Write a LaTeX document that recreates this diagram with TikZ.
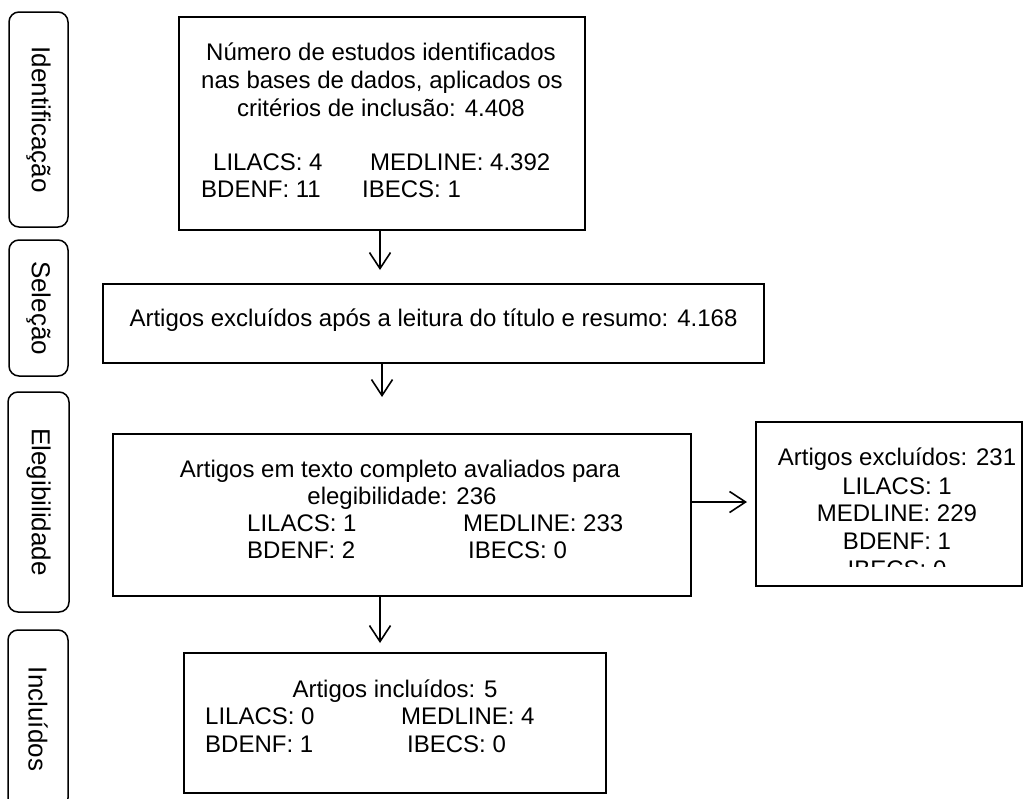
\documentclass[tikz,border=0pt]{standalone}
\usepackage{fontspec}
\setmainfont{Liberation Sans}
\usetikzlibrary{arrows.meta}
\begin{document}
\begin{tikzpicture}[x=1pt,y=-1pt,
  box/.style={draw, line width=1.6pt, inner sep=0pt},
  side/.style={draw, line width=1.5pt, rounded corners=10pt, inner sep=0pt, rotate=-90, font=\fontsize{26}{30}\selectfont},
  tx/.style={font=\fontsize{24}{28}\selectfont, inner sep=0pt, anchor=base},
  txw/.style={tx, anchor=base west},
  arr/.style={line width=1.6pt, -{Straight Barb[length=16pt,width=21pt,line width=1.6pt]}}]
\useasboundingbox (0,0) rectangle (1028,798);
\clip (0,0) rectangle (1028,798);

% side labels
\node[side, minimum width=215pt, minimum height=59pt] (s1) at (38.5,119.5) {Identificação};
\node[side, minimum width=136pt, minimum height=59pt] (s2) at (38.5,308) {Seleção};
\node[side, minimum width=220pt, minimum height=61pt] (s3) at (38.5,502) {Elegibilidade};
\node[side, minimum width=178pt, minimum height=60pt] (s4) at (38,719) {Incluídos};

% main boxes
\node[box, minimum width=406pt, minimum height=213pt] (b1) at (382,123.5) {};
\node[box, minimum width=661pt, minimum height=79pt] (b2) at (433.5,323.5) {};
\node[box, minimum width=578pt, minimum height=162pt] (b3) at (402,515) {};
\node[box, minimum width=266pt, minimum height=164pt] (b4) at (889,504) {};
\node[box, minimum width=422pt, minimum height=140pt] (b5) at (395,723) {};

% box 1 text
\node[tx] (b1l1) at (381,60) {Número de estudos identificados};
\node[tx] (b1l2) at (382,88) {nas bases de dados, aplicados os};
\node[tx] (b1l3) at (381,116) {critérios de inclusão: 4.408};
\node[txw] (b1a) at (213,170) {LILACS: 4};
\node[txw] (b1b) at (370,170) {MEDLINE: 4.392};
\node[txw] (b1c) at (201,197) {BDENF: 11};
\node[txw] (b1d) at (362,197) {IBECS: 1};

% box 2 text
\node[tx] (b2l1) at (433.5,326) {Artigos excluídos após a leitura do título e resumo: 4.168};

% box 3 text
\node[tx] (b3l1) at (400,477) {Artigos em texto completo avaliados para};
\node[tx] (b3l2) at (402,504) {elegibilidade: 236};
\node[txw] (b3a) at (247,531) {LILACS: 1};
\node[txw] (b3b) at (463,531) {MEDLINE: 233};
\node[txw] (b3c) at (247,558) {BDENF: 2};
\node[txw] (b3d) at (468,558) {IBECS: 0};

% box 4 text
\node[tx] (b4l1) at (897,465) {Artigos excluídos: 231};
\node[tx] (b4l2) at (897,494) {LILACS: 1};
\node[tx] (b4l3) at (897,521) {MEDLINE: 229};
\node[tx] (b4l4) at (897,549) {BDENF: 1};
\begin{scope}
\clip (756,422) rectangle (1022,566);
\node[tx] (b4l5) at (897,577) {IBECS: 0};
\end{scope}

% box 5 text
\node[tx] (b5l1) at (395,697) {Artigos incluídos: 5};
\node[txw] (b5a) at (205,724) {LILACS: 0};
\node[txw] (b5b) at (401,724) {MEDLINE: 4};
\node[txw] (b5c) at (205,752) {BDENF: 1};
\node[txw] (b5d) at (407,752) {IBECS: 0};

% arrows
\coordinate (t1) at (380,270);
\coordinate (t2) at (382,397);
\coordinate (t3) at (380,643);
\coordinate (t4) at (747,502);
\draw[arr] (b1.south -| t1) -- (t1);
\draw[arr] (b2.south -| t2) -- (t2);
\draw[arr] (b3.south -| t3) -- (t3);
\draw[arr] (b3.east |- t4) -- (t4);
\end{tikzpicture}
\end{document}
